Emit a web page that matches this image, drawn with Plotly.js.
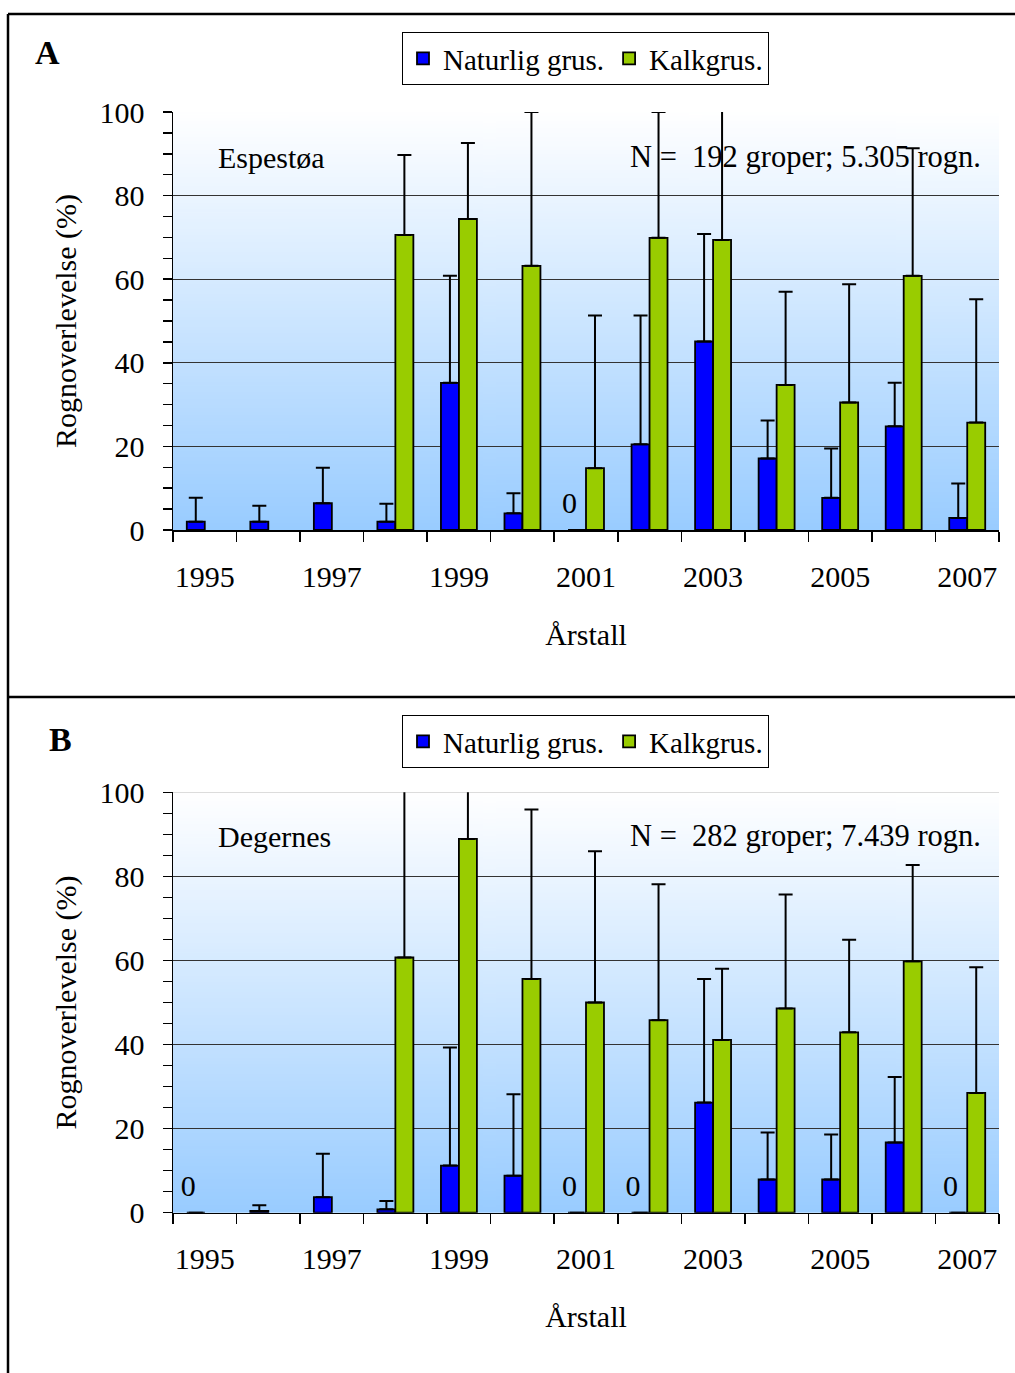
<!DOCTYPE html>
<html><head><meta charset="utf-8">
<script src="https://cdn.plot.ly/plotly-3.0.1.min.js"></script>
<style>html,body{margin:0;padding:0;background:#fff}#chart{width:1015px;height:1373px}</style>
</head><body><div id="chart"></div>
<script>
// ---------- data ----------
const years = ['1995','1996','1997','1998','1999','2000','2001','2002','2003','2004','2005','2006','2007'];
const yearLabels = ['1995','','1997','','1999','','2001','','2003','','2005','','2007'];
const seriesNames = ['Naturlig grus.', 'Kalkgrus.'];

// Panel A – Espestøa
const naturligA    = [2, 2, 6.4, 2, 35.2, 4, 0, 20.5, 45.1, 17.1, 7.7, 24.8, 2.9];
const naturligAErr = [5.7, 3.8, 8.5, 4.3, 25.6, 4.8, null, 30.8, 25.7, 9.1, 11.8, 10.4, 8.2];
const kalkA        = [null, null, null, 70.6, 74.4, 63.2, 14.8, 69.9, 69.4, 34.7, 30.5, 60.8, 25.7];
const kalkAErr     = [null, null, null, 19.1, 18.2, 36.8, 36.5, 30.1, 33, 22.3, 28.3, 30.5, 29.5];

// Panel B – Degernes
const naturligB    = [0, 0.4, 3.7, 0.8, 11.2, 8.8, 0, 0, 26.2, 7.9, 7.9, 16.7, 0];
const naturligBErr = [null, 1.4, 10.3, 2.0, 28.1, 19.4, null, null, 29.4, 11.2, 10.7, 15.6, null];
const kalkB        = [null, null, null, 60.7, 88.9, 55.6, 50.0, 45.8, 41.1, 48.6, 42.9, 59.8, 28.5];
const kalkBErr     = [null, null, null, 45, 15, 40.3, 36.0, 32.3, 16.9, 27.1, 22.0, 22.9, 29.9];

const panelLabels = ['A', 'B'];
const siteNames = ['Espestøa', 'Degernes'];
const nTexts = ['N =\u00A0\u00A0192 groper; 5.305 rogn.', 'N =\u00A0\u00A0282 groper; 7.439 rogn.'];
const yTitle = 'Rognoverlevelse (%)';
const xTitle = 'Årstall';

// ---------- style ----------
const FONT = 'Liberation Serif, "Times New Roman", serif';
const W = 1015, H = 1373;
const BLUE = '#0000ff', GREEN = '#99cc00';

function gradientURL() {
  const c = document.createElement('canvas');
  c.width = 4; c.height = 256;
  const g = c.getContext('2d');
  const gr = g.createLinearGradient(0, 0, 0, 256);
  gr.addColorStop(0, '#ffffff');
  gr.addColorStop(1, '#99ccff');
  g.fillStyle = gr; g.fillRect(0, 0, 4, 256);
  return c.toDataURL();
}
const grad = gradientURL();

function barTrace(y, err, name, color, xa, ya, legend) {
  return {
    type: 'bar', x: years, y: y, name: name, xaxis: xa, yaxis: ya, legend: legend,
    showlegend: true,
    marker: {color: color, line: {color: '#000', width: 1.8}},
    error_y: {type: 'data', array: err, arrayminus: err.map(() => 0), symmetric: false,
              color: '#000', thickness: 2, width: 7},
    cliponaxis: true, hoverinfo: 'x+y'
  };
}
// "0" labels for zero-valued Naturlig grus. bars
function zeroLabels(arr, xa, ya) {
  const xs = [], ys = [], ts = [];
  arr.forEach((v, i) => { if (v === 0) { xs.push(years[i]); ys.push(v); ts.push(String(v)); } });
  return {
    type: 'scatter', mode: 'markers+text', x: xs, y: ys, text: ts, xaxis: xa, yaxis: ya,
    marker: {size: 13, color: 'rgba(0,0,0,0)'},
    textposition: 'top left', textfont: {family: FONT, size: 30, color: '#000'},
    showlegend: false, cliponaxis: false, hoverinfo: 'skip'
  };
}

const traces = [
  barTrace(naturligA, naturligAErr, seriesNames[0], BLUE, 'x', 'y', 'legend'),
  barTrace(kalkA, kalkAErr, seriesNames[1], GREEN, 'x', 'y', 'legend'),
  barTrace(naturligB, naturligBErr, seriesNames[0], BLUE, 'x2', 'y2', 'legend2'),
  barTrace(kalkB, kalkBErr, seriesNames[1], GREEN, 'x2', 'y2', 'legend2'),
  zeroLabels(naturligA, 'x', 'y'),
  zeroLabels(naturligB, 'x2', 'y2')
];

const xDom = [173 / W, 999 / W];
const yDomA = [1 - 530 / H, 1 - 112 / H];
const yDomB = [1 - 1212.7 / H, 1 - 792.3 / H];

function xAxis(anchor) {
  return {
    domain: xDom, anchor: anchor, type: 'category', range: [-0.5, 12.5],
    tickson: 'boundaries', ticks: 'outside', ticklen: 10, tickwidth: 1.5, tickcolor: '#000',
    tickvals: years, ticktext: yearLabels, ticklabelstandoff: 19, tickangle: 0,
    showline: true, linecolor: '#000', linewidth: 1.5, showgrid: false, zeroline: false,
    tickfont: {family: FONT, size: 30, color: '#000'},
    title: {text: xTitle, font: {family: FONT, size: 30, color: '#000'}, standoff: 32},
    automargin: false, fixedrange: true
  };
}
function yAxis(anchor, dom) {
  return {
    domain: dom, anchor: anchor, range: [0, 100], dtick: 20, tick0: 0,
    ticks: 'outside', ticklen: 9, tickwidth: 1.5, tickcolor: '#000', ticklabelstandoff: 12,
    minor: {dtick: 5, ticks: 'outside', ticklen: 9, tickwidth: 1.5, tickcolor: '#000', showgrid: false},
    showline: true, linecolor: '#000', linewidth: 1.5,
    showgrid: true, gridcolor: '#333', gridwidth: 1, zeroline: false,
    tickfont: {family: FONT, size: 30, color: '#000'},
    title: {text: yTitle, font: {family: FONT, size: 30, color: '#000'}, standoff: 14},
    automargin: false, fixedrange: true
  };
}

function legendCfg(topPx) {
  return {
    x: 402 / W, y: 1 - topPx / H, xanchor: 'left', yanchor: 'top', orientation: 'h',
    bgcolor: '#fff', bordercolor: '#000', borderwidth: 1,
    font: {family: FONT, size: 29, color: '#000'}, itemwidth: 30, traceorder: 'normal'
  };
}

const annotations = [];
const txt = (size, bold) => ({family: FONT, size: size, color: '#000', weight: bold ? 'bold' : 'normal'});
annotations.push({xref: 'paper', yref: 'paper', x: 47 / W, y: 1 - 52 / H, text: '<b>' + panelLabels[0] + '</b>', showarrow: false, font: txt(34, true), xanchor: 'center', yanchor: 'middle'});
annotations.push({xref: 'paper', yref: 'paper', x: 60 / W, y: 1 - 739 / H, text: '<b>' + panelLabels[1] + '</b>', showarrow: false, font: txt(34, true), xanchor: 'center', yanchor: 'middle'});
[['x domain', 'y domain', 157, 112, 530], ['x2 domain', 'y2 domain', 836, 792.3, 1212.7]].forEach((r, i) => {
  const yfrac = (r[4] - r[2]) / (r[4] - r[3]);
  annotations.push({xref: r[0], yref: r[1], x: (216 - 173) / 826, y: yfrac, text: siteNames[i], showarrow: false, xanchor: 'left', yanchor: 'middle', font: txt(30)});
  annotations.push({xref: r[0], yref: r[1], x: (983 - 173) / 826, y: yfrac, text: nTexts[i], showarrow: false, xanchor: 'right', yanchor: 'middle', font: txt(30.5)});
});

const shapes = [
  {type: 'line', xref: 'paper', yref: 'paper', x0: 8 / W, x1: 1, y0: 1 - 14 / H, y1: 1 - 14 / H, line: {color: '#000', width: 2.5}},
  {type: 'line', xref: 'paper', yref: 'paper', x0: 8 / W, x1: 8 / W, y0: 1 - 14 / H, y1: 0, line: {color: '#000', width: 2.5}},
  {type: 'line', xref: 'paper', yref: 'paper', x0: 8 / W, x1: 1, y0: 1 - 697 / H, y1: 1 - 697 / H, line: {color: '#000', width: 2.5}},
  {type: 'line', xref: 'x domain', yref: 'y', x0: 0, x1: 1, y0: 100, y1: 100, layer: 'below', line: {color: '#666', width: 1.2}},
  {type: 'line', xref: 'x2 domain', yref: 'y2', x0: 0, x1: 1, y0: 100, y1: 100, layer: 'below', line: {color: '#666', width: 1.2}}
];

const images = [
  {source: grad, xref: 'x domain', yref: 'y domain', x: 0, y: 1, sizex: 1, sizey: 1, xanchor: 'left', yanchor: 'top', sizing: 'stretch', layer: 'below'},
  {source: grad, xref: 'x2 domain', yref: 'y2 domain', x: 0, y: 1, sizex: 1, sizey: 1, xanchor: 'left', yanchor: 'top', sizing: 'stretch', layer: 'below'}
];

const layout = {
  width: W, height: H, margin: {l: 0, r: 0, t: 0, b: 0},
  paper_bgcolor: '#fff', plot_bgcolor: 'rgba(0,0,0,0)',
  barmode: 'group', bargap: 0.434, bargroupgap: 0,
  font: {family: FONT, size: 30, color: '#000'},
  xaxis: xAxis('y'), yaxis: yAxis('x', yDomA),
  xaxis2: xAxis('y2'), yaxis2: yAxis('x2', yDomB),
  legend: legendCfg(32), legend2: legendCfg(715),
  annotations: annotations, shapes: shapes, images: images,
  showlegend: true
};

Plotly.newPlot('chart', traces, layout, {staticPlot: true, displayModeBar: false});
</script>
</body></html>
